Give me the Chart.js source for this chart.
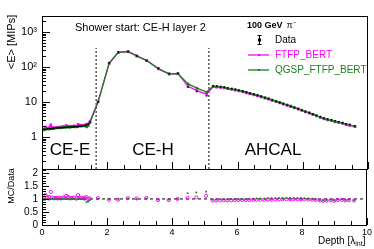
<!DOCTYPE html>
<html>
<head>
<meta charset="utf-8">
<script src="https://cdn.jsdelivr.net/npm/chart.js@4.4.1/dist/chart.umd.min.js"></script>
<style>
  html, body { margin: 0; padding: 0; background: #fff; }
  #wrap { position: relative; width: 374px; height: 249px; }
  canvas { position: absolute; left: 0; top: 0; }
</style>
</head>
<body>
<div id="wrap">
  <canvas id="top" width="374" height="249"></canvas>
  <canvas id="bot" width="374" height="249"></canvas>
</div>
<script>
// depth of each layer [lambda_int]
const ceeDepth = [0.06, 0.11, 0.16, 0.22, 0.27, 0.32, 0.37, 0.43, 0.48, 0.53, 0.58, 0.64, 0.69, 0.74,
  0.79, 0.85, 0.90, 0.95, 1.00, 1.06, 1.11, 1.16, 1.21, 1.27, 1.32, 1.37, 1.42, 1.47];
const cehDepth = [1.72, 2.06, 2.34, 2.64, 2.91, 3.21, 3.57, 3.90, 4.17, 4.48, 4.75, 5.05];
const ahcalDepth = [5.25, 5.36, 5.48, 5.59, 5.70, 5.82, 5.93, 6.04, 6.16, 6.27, 6.38, 6.50, 6.61,
  6.72, 6.84, 6.95, 7.06, 7.18, 7.29, 7.40, 7.52, 7.63, 7.74, 7.86, 7.97, 8.08, 8.20, 8.31, 8.42,
  8.54, 8.65, 8.76, 8.88, 8.99, 9.10, 9.22, 9.33, 9.44, 9.60];

// <E> in data [MIPs]
const ceeData = [1.65, 1.68, 1.70, 1.72, 1.74, 1.75, 1.78, 1.80, 1.82, 1.84, 1.85, 1.87, 1.88, 1.90,
  1.91, 1.92, 1.93, 1.95, 1.96, 1.98, 2.00, 2.02, 2.05, 2.08, 2.12, 2.20, 2.35, 2.70];
const cehData = [10.0, 130, 265, 270, 205, 150, 92, 65, 65, 27, 20, 15];
const ahcalData = [29, 28.5, 27.5, 26.5, 25.2, 24, 22.8, 21.6, 20.3, 19, 17.8, 16.6, 15.5, 14.4,
  13.3, 12.3, 11.3, 10.4, 9.6, 8.8, 8.1, 7.5, 6.9, 6.3, 5.8, 5.3, 4.9, 4.5, 4.15, 3.85, 3.55, 3.3,
  3.1, 2.9, 2.72, 2.55, 2.4, 2.28, 2.1];

// MC/Data ratios
const ceeFtfp = [1.02, 1.15, 1.05, 1.08, 1.27, 1.06, 1.03, 1.04, 1.02, 1.05, 1.03, 1.06, 1.04, 1.12,
  1.08, 1.05, 1.03, 1.04, 1.06, 1.02, 1.15, 1.04, 1.05, 1.03, 1.04, 1.07, 1.00, 1.02];
const ceeQgsp = [0.96, 0.98, 1.00, 0.97, 0.99, 1.00, 0.98, 1.01, 0.99, 1.00, 0.98, 1.00, 1.01, 0.99,
  1.00, 0.98, 1.00, 1.01, 0.99, 0.98, 1.00, 1.02, 0.99, 1.00, 0.97, 0.88, 0.90, 0.95];
const cehFtfp = [1.03, 0.97, 0.97, 1.03, 1.02, 1.04, 0.96, 0.96, 1.00, 1.04, 1.06, 1.12];
const cehQgsp = [1.00, 1.00, 1.00, 1.01, 1.00, 1.02, 0.98, 0.98, 1.00, 1.22, 1.25, 1.28];
const ahcalFtfp = [0.94, 0.94, 0.95, 0.95, 0.95, 0.95, 0.96, 0.96, 0.96, 0.96, 0.96, 0.97, 0.97,
  0.97, 0.97, 0.98, 0.98, 0.98, 0.98, 0.99, 0.99, 0.99, 0.99, 0.99, 0.99, 0.98, 0.98, 0.97, 0.96,
  0.94, 0.93, 0.94, 0.95, 0.93, 0.96, 0.96, 0.94, 0.95, 0.94];
const ahcalQgsp = [0.97, 0.97, 0.98, 0.98, 0.98, 0.99, 0.99, 0.99, 1.00, 1.00, 1.00, 1.00, 1.01,
  1.01, 1.01, 1.02, 1.02, 1.02, 1.03, 1.03, 1.03, 1.03, 1.02, 1.02, 1.02, 1.01, 1.01, 1.00, 0.98,
  0.95, 0.94, 0.95, 0.97, 0.95, 0.98, 0.99, 0.96, 0.97, 0.95];

const sectionNames = ['CE-E', 'CE-H', 'AHCAL'];
const sectionBounds = [1.66, 5.12];
const xTicks = [0, 2, 4, 6, 8, 10];
const energyTicks = [1, 10, 100, 1000];
const energyTickLabels = ['1', '10', '10²', '10³'];
const ratioTicks = [0, 0.5, 1, 1.5, 2];
const ratioTickLabels = ['0', '0.5', '1', '1.5', '2'];

const FONT = "'Liberation Sans', Arial, sans-serif";
const MAGENTA = '#ff00ff';
const GREEN = '#1a7f1a';

const depth = ceeDepth.concat(cehDepth, ahcalDepth);
const dataE = ceeData.concat(cehData, ahcalData);
const ftfpRatio = ceeFtfp.concat(cehFtfp, ahcalFtfp);
const qgspRatio = ceeQgsp.concat(cehQgsp, ahcalQgsp);

const pts = (xs, ys) => xs.map((x, i) => ({ x: x, y: ys[i] }));

// ROOT-like frame with ticks pointing inwards
function frameTicks(yMajor, yMinor, yMajorLen) {
  return {
    id: 'frameTicks',
    afterDatasetsDraw(chart) {
      const { ctx, chartArea: a, scales } = chart;
      ctx.save();
      ctx.strokeStyle = '#000';
      ctx.lineWidth = 1;
      ctx.strokeRect(a.left + 0.5, a.top + 0.5, a.right - a.left - 1, a.bottom - a.top);
      ctx.beginPath();
      for (let v = 0; v <= 10.001; v += 0.5) {
        const px = Math.round(scales.x.getPixelForValue(v)) + 0.5;
        const len = Math.abs(v % 2) < 0.01 ? 7 : 4;
        ctx.moveTo(px, a.bottom);
        ctx.lineTo(px, a.bottom - len);
      }
      yMajor.forEach(v => {
        const py = Math.round(scales.y.getPixelForValue(v)) + 0.5;
        ctx.moveTo(a.left, py);
        ctx.lineTo(a.left + yMajorLen, py);
      });
      yMinor.forEach(v => {
        const py = Math.round(scales.y.getPixelForValue(v)) + 0.5;
        if (py < a.top || py > a.bottom) return;
        ctx.moveTo(a.left, py);
        ctx.lineTo(a.left + 4, py);
      });
      ctx.stroke();
      ctx.restore();
    }
  };
}

const logMinor = [];
[0.1, 1, 10, 100, 1000].forEach(d => {
  for (let k = 2; k <= 9; k++) logMinor.push(k * d);
});
const ratioMinor = [];
for (let v = 0.1; v < 2.15; v += 0.1) ratioMinor.push(v);

const topTexts = {
  id: 'topTexts',
  afterDraw(chart) {
    const ctx = chart.ctx;
    ctx.save();
    ctx.fillStyle = '#000';
    ctx.textBaseline = 'middle';
    ctx.font = '11px ' + FONT;
    ctx.textAlign = 'left';
    ctx.fillText('Shower start: CE-H layer 2', 75, 28);

    // section labels
    ctx.font = '17px ' + FONT;
    ctx.textAlign = 'center';
    ctx.fillText(sectionNames[0], 70, 150);
    ctx.fillText(sectionNames[1], 153, 150);
    ctx.fillText(sectionNames[2], 273, 150);

    // y title
    ctx.save();
    ctx.translate(12, 42);
    ctx.rotate(-Math.PI / 2);
    ctx.font = '11px ' + FONT;
    ctx.fillText('<E> [MIPs]', 0, 0);
    ctx.restore();

    // legend
    ctx.textAlign = 'left';
    ctx.font = 'bold 9px ' + FONT;
    ctx.fillText('100 GeV', 247, 26);
    const w = ctx.measureText('100 GeV').width;
    ctx.font = '9px ' + FONT;
    ctx.fillText('π⁻', 247 + w + 4, 26);

    ctx.strokeStyle = '#000';
    ctx.lineWidth = 1;
    ctx.beginPath();
    ctx.moveTo(259.5, 35); ctx.lineTo(259.5, 45);
    ctx.moveTo(257.5, 35.5); ctx.lineTo(261.5, 35.5);
    ctx.moveTo(257.5, 44.5); ctx.lineTo(261.5, 44.5);
    ctx.stroke();
    ctx.fillRect(258, 38.5, 3, 3);
    ctx.font = '10px ' + FONT;
    ctx.fillText('Data', 275, 40);

    ctx.lineWidth = 1.3;
    ctx.strokeStyle = MAGENTA;
    ctx.beginPath(); ctx.moveTo(248, 55); ctx.lineTo(269, 55); ctx.stroke();
    ctx.fillStyle = MAGENTA;
    ctx.fillRect(258, 54, 2, 2);
    ctx.fillText('FTFP_BERT', 275, 55);

    ctx.strokeStyle = GREEN;
    ctx.beginPath(); ctx.moveTo(248, 70); ctx.lineTo(269, 70); ctx.stroke();
    ctx.fillStyle = GREEN;
    ctx.fillRect(258, 69, 2, 2);
    ctx.fillText('QGSP_FTFP_BERT', 275, 70);
    ctx.restore();
  }
};

const botTexts = {
  id: 'botTexts',
  afterDraw(chart) {
    const ctx = chart.ctx;
    ctx.save();
    ctx.fillStyle = '#000';
    ctx.textBaseline = 'middle';
    ctx.textAlign = 'center';
    ctx.save();
    ctx.translate(12, 186);
    ctx.rotate(-Math.PI / 2);
    ctx.font = '9px ' + FONT;
    ctx.fillText('MC/Data', 0, 0);
    ctx.restore();

    ctx.textAlign = 'left';
    ctx.textBaseline = 'alphabetic';
    ctx.font = '10px ' + FONT;
    const a = 'Depth [λ';
    ctx.fillText(a, 318, 244);
    let x = 318 + ctx.measureText(a).width;
    ctx.font = '7px ' + FONT;
    ctx.fillText('int', x, 246);
    x += ctx.measureText('int').width;
    ctx.font = '10px ' + FONT;
    ctx.fillText(']', x, 244);
    ctx.restore();
  }
};

const tickFont = size => ({ family: FONT, size: size });

new Chart(document.getElementById('top'), {
  type: 'scatter',
  data: {
    datasets: [
      {
        label: 'Data', data: pts(depth, dataE), showLine: false,
        pointStyle: 'rect', pointRadius: 1.1, backgroundColor: '#000', borderColor: '#000',
        borderWidth: 0, order: 0
      },
      {
        label: 'QGSP_FTFP_BERT', data: pts(depth, dataE.map((v, i) => v * qgspRatio[i])),
        showLine: true, borderColor: GREEN, backgroundColor: GREEN, borderWidth: 1.3,
        pointStyle: 'rect', pointRadius: 0.8, order: 1
      },
      {
        label: 'FTFP_BERT', data: pts(depth, dataE.map((v, i) => v * ftfpRatio[i])),
        showLine: true, borderColor: MAGENTA, backgroundColor: MAGENTA, borderWidth: 1.3,
        pointStyle: 'rect', pointRadius: 1, order: 2
      },
      {
        data: [{ x: sectionBounds[0], y: 0.122 }, { x: sectionBounds[0], y: 350 }],
        showLine: true, borderColor: '#000', borderWidth: 1, borderDash: [2, 2], pointRadius: 0, order: 3
      },
      {
        data: [{ x: sectionBounds[1], y: 0.122 }, { x: sectionBounds[1], y: 350 }],
        showLine: true, borderColor: '#000', borderWidth: 1, borderDash: [2, 2], pointRadius: 0, order: 3
      }
    ]
  },
  options: {
    responsive: false,
    animation: false,
    devicePixelRatio: 1,
    layout: { padding: { left: 0, right: 6, top: 16, bottom: 80 } },
    plugins: { legend: { display: false }, tooltip: { enabled: false } },
    scales: {
      x: { type: 'linear', min: 0, max: 10, display: false },
      y: {
        type: 'logarithmic', min: 0.122, max: 2865,
        grid: { display: false, drawTicks: false },
        border: { display: false },
        ticks: {
          color: '#000', font: tickFont(11), padding: 5, autoSkip: false,
          callback: v => energyTickLabels[energyTicks.indexOf(v)] ?? ''
        },
        afterBuildTicks: s => { s.ticks = energyTicks.map(v => ({ value: v })); },
        afterFit: s => { s.width = 42; }
      }
    }
  },
  plugins: [frameTicks(energyTicks, logMinor, 8), topTexts]
});

new Chart(document.getElementById('bot'), {
  type: 'scatter',
  data: {
    datasets: [
      {
        label: 'QGSP_FTFP_BERT', data: pts(depth, qgspRatio), showLine: false,
        pointStyle: 'rect', pointRadius: 1.2, backgroundColor: GREEN, borderColor: GREEN,
        borderWidth: 0, order: 1
      },
      {
        label: 'FTFP_BERT', data: pts(depth, ftfpRatio), showLine: false,
        pointStyle: 'circle', pointRadius: 1.6, backgroundColor: 'rgba(0,0,0,0)', borderColor: MAGENTA,
        borderWidth: 1, order: 2
      },
      {
        data: [{ x: 0, y: 1 }, { x: 10, y: 1 }],
        showLine: true, borderColor: '#000', borderWidth: 1, borderDash: [3, 3], pointRadius: 0, order: 3
      }
    ]
  },
  options: {
    responsive: false,
    animation: false,
    devicePixelRatio: 1,
    layout: { padding: { left: 0, right: 6, top: 169, bottom: 0 } },
    plugins: { legend: { display: false }, tooltip: { enabled: false } },
    scales: {
      x: {
        type: 'linear', min: 0, max: 10,
        grid: { display: false, drawTicks: false },
        border: { display: false },
        ticks: { color: '#000', font: tickFont(9), padding: 2, autoSkip: false, maxRotation: 0 },
        afterBuildTicks: s => { s.ticks = xTicks.map(v => ({ value: v })); },
        afterFit: s => { s.height = 24; }
      },
      y: {
        type: 'linear', min: 0, max: 2.15,
        grid: { display: false, drawTicks: false },
        border: { display: false },
        ticks: {
          color: '#000', font: tickFont(10), padding: 4, autoSkip: false,
          callback: v => ratioTickLabels[ratioTicks.indexOf(v)] ?? ''
        },
        afterBuildTicks: s => { s.ticks = ratioTicks.map(v => ({ value: v })); },
        afterFit: s => { s.width = 42; }
      }
    }
  },
  plugins: [frameTicks(ratioTicks, ratioMinor, 7), botTexts]
});
</script>
</body>
</html>
